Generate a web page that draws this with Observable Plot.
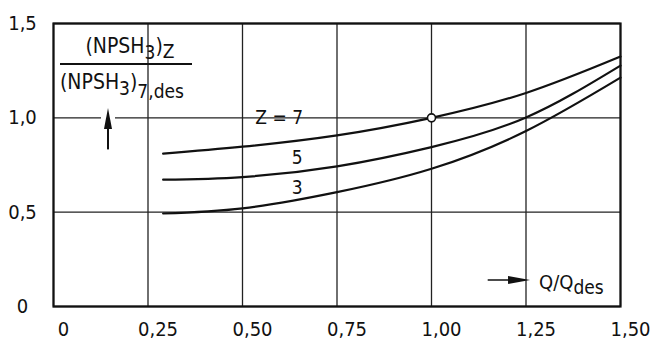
<!DOCTYPE html>
<html><head><meta charset="utf-8">
<script src="https://cdn.jsdelivr.net/npm/d3@7"></script>
<script src="https://cdn.jsdelivr.net/npm/@observablehq/plot@0.6"></script>
<style>
body{margin:0;background:#fff;}
svg{font-family:"DejaVu Sans Condensed","DejaVu Sans",sans-serif;}
</style></head>
<body><div id="chart"></div>
<script>
const q = [0.29, 0.5, 0.75, 1.0, 1.25, 1.5];
const z7 = [0.81, 0.847, 0.907, 1.0, 1.132, 1.325];
const z5 = [0.672, 0.686, 0.743, 0.845, 1.002, 1.277];
const z3 = [0.493, 0.52, 0.606, 0.73, 0.93, 1.213];
const xTicks = [0, 0.25, 0.5, 0.75, 1.0, 1.25, 1.5];
const xTickLabels = ["0", "0,25", "0,50", "0,75", "1,00", "1,25", "1,50"];
const yTicks = [0, 0.5, 1.0, 1.5];
const yTickLabels = ["0", "0,5", "1,0", "1,5"];
const curveLabels = [
  {x: 0.597, y: 1.0, text: "Z = 7"},
  {x: 0.645, y: 0.79, text: "5"},
  {x: 0.645, y: 0.626, text: "3"}
];
const designPoint = [{x: 1.0, y: 1.0}];
const yArrow = {x: 0.1455, y1: 0.83, y2: 1.05};
const xArrow = {y: 0.138, x1: 1.15, x2: 1.262};

const rows = [];
const series = [["7", z7], ["5", z5], ["3", z3]];
for (const [z, vals] of series) q.forEach((v, i) => rows.push({z, q: v, r: vals[i]}));

const plot = Plot.plot({
  width: 650, height: 342,
  marginLeft: 53, marginRight: 30, marginTop: 23, marginBottom: 36,
  x: {domain: [0, 1.5], axis: null},
  y: {domain: [0, 1.5], axis: null},
  style: {fontFamily: "DejaVu Sans Condensed", background: "white"},
  marks: [
    Plot.ruleX(xTicks, {stroke: "#222", strokeWidth: 1.3}),
    Plot.ruleY(yTicks, {stroke: "#222", strokeWidth: 1.3}),
    Plot.frame({stroke: "#111", strokeWidth: 2.2}),
    Plot.line(rows, {x: "q", y: "r", z: "z", curve: "natural", stroke: "#111", strokeWidth: 2.2}),
    Plot.text(curveLabels, {x: "x", y: "y", text: "text", fontSize: 19, fill: "#111"}),
    Plot.dot(designPoint, {x: "x", y: "y", r: 4, fill: "white", stroke: "#111", strokeWidth: 1.6}),
    Plot.text(xTicks, {x: d => d, y: 0, text: (d, i) => xTickLabels[i], dy: 23, dx: 10, fontSize: 20, fill: "#111", clip: false}),
    Plot.text(yTicks, {x: 0, y: d => d, text: (d, i) => yTickLabels[i], dx: -31, fontSize: 20, fill: "#111", clip: false})
  ]
});
document.getElementById("chart").appendChild(plot);

const sx = plot.scale("x"), sy = plot.scale("y");
const svg = d3.select(plot);
const X = v => sx.apply(v), Y = v => sy.apply(v);

// white box behind the "Z = 7" label so the 1,0 grid line breaks around it
svg.selectAll("text").filter(function() { return this.textContent === curveLabels[0].text; }).each(function() {
  const b = this.getBBox();
  const r = document.createElementNS("http://www.w3.org/2000/svg", "rect");
  this.parentNode.insertBefore(r, this);
  d3.select(r).attr("x", b.x - 5).attr("y", b.y + 2).attr("width", b.width + 10).attr("height", b.height - 4).attr("fill", "white");
});

// vertical arrow (y label indicator)
{
  const ax = X(yArrow.x), yb = Y(yArrow.y1), yt = Y(yArrow.y2);
  svg.append("rect").attr("x", ax - 7).attr("y", yt - 2).attr("width", 14).attr("height", 16).attr("fill", "white");
  svg.append("line").attr("x1", ax).attr("x2", ax).attr("y1", yb).attr("y2", yt + 10).attr("stroke", "#111").attr("stroke-width", 2);
  svg.append("path").attr("d", `M${ax},${yt} L${ax - 4},${yt + 21} L${ax + 4},${yt + 21} Z`).attr("fill", "#111");
}
// horizontal arrow for Q/Qdes
{
  const ay = Y(xArrow.y), xl = X(xArrow.x1), xr = X(xArrow.x2);
  svg.append("line").attr("x1", xl).attr("x2", xr - 10).attr("y1", ay).attr("y2", ay).attr("stroke", "#111").attr("stroke-width", 1.6);
  svg.append("path").attr("d", `M${xr},${ay} L${xr - 22},${ay - 4} L${xr - 22},${ay + 4} Z`).attr("fill", "#111");
  const t = svg.append("text").attr("x", xr + 9).attr("y", ay + 9).attr("text-anchor", "start").attr("font-size", 20).attr("fill", "#111");
  t.append("tspan").text("Q/Q");
  t.append("tspan").attr("dy", 5).attr("font-size", 19).text("des");
}
// fraction label
{
  const g = svg.append("g").attr("fill", "#111");
  const num = g.append("text").attr("x", 130).attr("y", 53).attr("text-anchor", "middle").attr("font-size", 21);
  num.append("tspan").text("(NPSH");
  num.append("tspan").attr("dy", 6).attr("font-size", 19).text("3");
  num.append("tspan").attr("dy", -6).text(")");
  num.append("tspan").attr("dy", 5).attr("font-size", 19).text("Z");
  svg.append("line").attr("x1", 60).attr("x2", 192).attr("y1", 64).attr("y2", 64).attr("stroke", "#111").attr("stroke-width", 2);
  const den = g.append("text").attr("x", 60).attr("y", 89).attr("text-anchor", "start").attr("font-size", 21);
  den.append("tspan").text("(NPSH");
  den.append("tspan").attr("dy", 6).attr("font-size", 19).text("3");
  den.append("tspan").attr("dy", -6).text(")");
  den.append("tspan").attr("dy", 9).attr("font-size", 19).text("7,des");
}
</script></body></html>
